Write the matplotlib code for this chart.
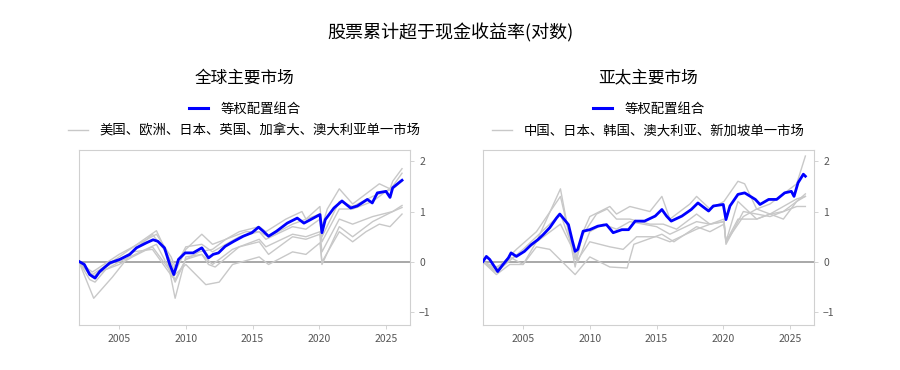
import matplotlib
matplotlib.use('Agg')
import matplotlib.pyplot as plt
from matplotlib.lines import Line2D

plt.rcParams['font.family'] = ['Noto Sans CJK SC', 'DejaVu Sans']

# ---- global panel: equal-weight portfolio
g_eq_t = [2002.0, 2002.4, 2002.8, 2003.2, 2003.55, 2004.3, 2005.05, 2005.8, 2006.3, 2007.05,
          2007.55, 2007.9, 2008.4, 2008.8, 2009.1, 2009.45, 2009.95, 2010.55, 2011.2, 2011.7,
          2012.05, 2012.45, 2012.95, 2013.6, 2014.3, 2014.95, 2015.45, 2015.8, 2016.2, 2016.8,
          2017.6, 2018.35, 2018.85, 2019.35, 2020.05, 2020.2, 2020.45, 2021.1, 2021.7, 2022.35,
          2022.85, 2023.6, 2023.97, 2024.35, 2025.0, 2025.3, 2025.5, 2026.1, 2026.2]
g_eq_v = [0.01, -0.05, -0.25, -0.32, -0.19, -0.02, 0.05, 0.15, 0.28, 0.38,
          0.44, 0.41, 0.28, -0.05, -0.25, 0.05, 0.18, 0.18, 0.28, 0.08,
          0.15, 0.18, 0.31, 0.41, 0.51, 0.58, 0.69, 0.61, 0.51, 0.61,
          0.77, 0.87, 0.77, 0.84, 0.94, 0.58, 0.84, 1.07, 1.21, 1.07,
          1.11, 1.24, 1.17, 1.37, 1.40, 1.28, 1.47, 1.60, 1.62]

# ---- global panel: single markets
g_us_t = [2002.0, 2002.8, 2003.2, 2004.0, 2005.0, 2006.0, 2007.5, 2008.9, 2009.2, 2010.0, 2011.0,
          2012.0, 2013.0, 2014.0, 2015.5, 2016.0, 2017.5, 2018.7, 2019.0, 2020.05, 2020.2, 2020.6,
          2021.5, 2022.5, 2023.5, 2024.5, 2025.3, 2025.5, 2026.2]
g_us_v = [0.0, -0.35, -0.4, -0.15, -0.05, 0.1, 0.3, -0.2, -0.35, 0.05, 0.2,
          0.25, 0.45, 0.6, 0.7, 0.6, 0.85, 1.0, 0.85, 1.1, 0.7, 1.05,
          1.45, 1.15, 1.35, 1.55, 1.45, 1.6, 1.85]

g_eu_t = [2002.0, 2003.1, 2004.5, 2006.0, 2007.5, 2008.5, 2009.2, 2010.0, 2011.2, 2011.7,
          2012.2, 2014.0, 2015.5, 2016.2, 2018.0, 2019.0, 2020.05, 2020.2, 2021.5, 2022.5,
          2024.0, 2025.5, 2026.2]
g_eu_v = [0.0, -0.72, -0.3, 0.2, 0.55, 0.2, -0.72, 0.1, 0.15, -0.05,
          -0.1, 0.3, 0.4, 0.15, 0.5, 0.45, 0.55, -0.05, 0.7, 0.5,
          0.8, 1.0, 1.12]

g_jp_t = [2002.0, 2003.0, 2004.0, 2006.0, 2007.5, 2009.0, 2010.0, 2011.5, 2012.5, 2013.5,
          2015.5, 2016.2, 2018.0, 2019.0, 2020.05, 2020.2, 2021.5, 2022.5, 2023.5, 2024.5,
          2025.3, 2026.2]
g_jp_v = [0.0, -0.3, -0.1, 0.2, 0.25, -0.3, -0.05, -0.45, -0.4, -0.05,
          0.1, -0.05, 0.2, 0.15, 0.38, 0.0, 0.6, 0.4, 0.6, 0.75,
          0.7, 0.95]

g_uk_t = [2002.0, 2003.0, 2005.0, 2007.8, 2008.9, 2009.2, 2010.0, 2011.2, 2012.0, 2013.5,
          2014.5, 2015.5, 2016.0, 2018.0, 2019.0, 2020.05, 2020.2, 2021.5, 2022.5, 2024.0,
          2025.5, 2026.2]
g_uk_v = [0.0, -0.3, 0.0, 0.35, -0.2, -0.4, 0.05, 0.15, -0.05, 0.25,
          0.35, 0.45, 0.3, 0.55, 0.5, 0.6, 0.2, 0.85, 0.75, 0.9,
          1.0, 1.08]

g_ca_t = [2002.0, 2003.0, 2005.0, 2007.8, 2008.9, 2009.2, 2010.0, 2011.2, 2012.0, 2013.0,
          2014.5, 2015.5, 2016.0, 2018.0, 2019.0, 2020.05, 2020.2, 2021.5, 2022.5, 2024.0,
          2025.5, 2026.2]
g_ca_v = [0.0, -0.25, 0.1, 0.62, 0.0, -0.2, 0.25, 0.55, 0.35, 0.45,
          0.6, 0.6, 0.45, 0.7, 0.65, 0.85, 0.4, 1.05, 1.05, 1.2,
          1.5, 1.76]

g_au_t = [2002.0, 2003.0, 2005.0, 2007.8, 2008.9, 2009.2, 2010.0, 2011.2, 2012.0, 2014.0,
          2015.5, 2016.2, 2018.0, 2020.05, 2020.2, 2021.5, 2022.5, 2024.0, 2025.5, 2026.2]
g_au_v = [0.0, -0.2, 0.15, 0.55, 0.1, -0.1, 0.3, 0.35, 0.2, 0.5,
          0.6, 0.5, 0.75, 0.95, 0.5, 1.2, 1.1, 1.3, 1.45, 1.6]

# ---- Asia-Pacific panel: equal-weight portfolio
a_eq_t = [2002.0, 2002.25, 2002.5, 2002.75, 2003.1, 2003.5, 2003.9, 2004.1, 2004.5, 2005.1,
          2005.6, 2006.1, 2006.5, 2007.0, 2007.5, 2007.75, 2008.0, 2008.4, 2008.7, 2008.9,
          2009.1, 2009.5, 2010.0, 2010.6, 2011.25, 2011.75, 2012.4, 2012.9, 2013.4, 2014.1,
          2014.9, 2015.4, 2015.75, 2016.1, 2016.9, 2017.6, 2018.1, 2018.9, 2019.25, 2020.0,
          2020.2, 2020.5, 2021.1, 2021.6, 2022.4, 2022.75, 2023.4, 2024.0, 2024.6, 2025.1,
          2025.3, 2025.6, 2026.0, 2026.15]
a_eq_v = [0.01, 0.11, 0.05, -0.05, -0.19, -0.05, 0.08, 0.18, 0.11, 0.21,
          0.34, 0.44, 0.54, 0.68, 0.87, 0.95, 0.87, 0.74, 0.41, 0.21,
          0.25, 0.61, 0.64, 0.71, 0.74, 0.58, 0.64, 0.64, 0.81, 0.81,
          0.91, 1.04, 0.91, 0.81, 0.91, 1.04, 1.17, 1.01, 1.11, 1.14,
          0.84, 1.11, 1.34, 1.37, 1.24, 1.14, 1.24, 1.24, 1.37, 1.40,
          1.30, 1.57, 1.74, 1.70]

# ---- Asia-Pacific panel: single markets
a_cn_t = [2002.0, 2003.0, 2004.0, 2005.0, 2006.0, 2007.8, 2008.9, 2009.5, 2010.0, 2011.5,
          2012.0, 2013.0, 2014.5, 2015.4, 2016.0, 2017.5, 2018.0, 2019.0, 2020.05, 2021.1,
          2021.6, 2022.5, 2023.5, 2024.5, 2025.5, 2026.15]
a_cn_v = [0.0, -0.2, 0.1, -0.05, 0.4, 1.45, -0.1, 0.6, 0.9, 1.1,
          0.95, 1.1, 1.0, 1.3, 0.85, 1.15, 1.3, 1.05, 1.2, 1.6,
          1.55, 1.05, 1.15, 1.35, 1.55, 2.1]

a_kr_t = [2002.0, 2003.0, 2004.5, 2006.0, 2007.8, 2008.9, 2009.5, 2010.5, 2011.3, 2012.0,
          2013.0, 2014.5, 2015.5, 2016.5, 2018.0, 2019.0, 2020.05, 2020.2, 2021.1, 2022.5,
          2023.5, 2024.5, 2025.5, 2026.15]
a_kr_v = [0.0, -0.15, 0.25, 0.6, 1.3, 0.05, 0.55, 0.95, 1.05, 0.85,
          0.85, 0.75, 0.75, 0.65, 0.95, 0.75, 0.8, 0.4, 1.2, 0.85,
          0.95, 0.85, 1.2, 1.35]

a_jp_t = [2002.0, 2003.0, 2004.0, 2005.0, 2006.0, 2007.0, 2008.9, 2010.0, 2011.5, 2012.8,
          2013.3, 2015.4, 2016.3, 2018.0, 2019.0, 2020.05, 2020.2, 2021.1, 2022.5, 2023.5,
          2024.5, 2025.5, 2026.15]
a_jp_v = [0.0, -0.25, -0.05, -0.05, 0.3, 0.25, -0.25, 0.1, -0.1, -0.12,
          0.35, 0.55, 0.4, 0.7, 0.6, 0.75, 0.4, 0.85, 0.85, 0.95,
          1.0, 1.1, 1.1]

a_au_t = [2002.0, 2003.0, 2005.0, 2007.8, 2009.1, 2010.0, 2011.5, 2012.5, 2013.5, 2015.0,
          2016.0, 2018.0, 2020.05, 2020.2, 2021.5, 2022.5, 2023.5, 2024.5, 2025.5, 2026.15]
a_au_v = [0.0, -0.1, 0.2, 0.75, 0.05, 0.4, 0.3, 0.25, 0.5, 0.5,
          0.4, 0.65, 0.85, 0.35, 1.0, 0.95, 0.9, 1.0, 1.2, 1.3]

a_sg_t = [2002.0, 2003.0, 2005.0, 2007.8, 2009.1, 2010.0, 2011.0, 2012.0, 2013.0, 2015.0,
          2016.0, 2018.0, 2019.0, 2020.05, 2020.2, 2021.5, 2022.5, 2023.5, 2024.5, 2025.5,
          2026.15]
a_sg_v = [0.0, -0.2, 0.25, 0.95, 0.0, 0.6, 0.75, 0.65, 0.8, 0.7,
          0.55, 0.8, 0.75, 0.8, 0.4, 0.9, 1.05, 0.95, 1.1, 1.25,
          1.3]

panels = [
    ('全球主要市场', g_eq_t, g_eq_v,
     [(g_us_t, g_us_v), (g_eu_t, g_eu_v), (g_jp_t, g_jp_v),
      (g_uk_t, g_uk_v), (g_ca_t, g_ca_v), (g_au_t, g_au_v)],
     '美国、欧洲、日本、英国、加拿大、澳大利亚单一市场'),
    ('亚太主要市场', a_eq_t, a_eq_v,
     [(a_cn_t, a_cn_v), (a_jp_t, a_jp_v), (a_kr_t, a_kr_v),
      (a_au_t, a_au_v), (a_sg_t, a_sg_v)],
     '中国、日本、韩国、澳大利亚、新加坡单一市场'),
]

BLUE = '#0000ff'
GREY = '#c8c8c8'

fig = plt.figure(figsize=(9, 3.7), dpi=100)
fig.text(0.5, 0.91, '股票累计超于现金收益率(对数)', ha='center', va='center', fontsize=13)

lefts = [0.0878, 0.5367]
for left, (title, eq_t, eq_v, singles, grey_label) in zip(lefts, panels):
    ax = fig.add_axes([left, 0.1216, 0.3678, 0.473])
    for t, v in singles:
        ax.plot(t, v, color=GREY, lw=1.0)
    ax.axhline(0, color='#999999', lw=1.2, zorder=1)
    ax.plot(eq_t, eq_v, color=BLUE, lw=2.0, zorder=3)

    ax.set_xlim(2002.0, 2026.8)
    ax.set_ylim(-1.25, 2.22)
    ax.set_xticks([2005, 2010, 2015, 2020, 2025])
    ax.set_yticks([-1, 0, 1, 2])
    ax.yaxis.tick_right()
    ax.tick_params(labelsize=7.5, colors='#555555', length=3, width=0.6)
    ax.tick_params(axis='both', color='#cccccc')
    for s in ax.spines.values():
        s.set_color('#d0d0d0')

    ax.text(0.5, 1.411, title, transform=ax.transAxes, ha='center', va='center', fontsize=12)

    leg1 = ax.legend([Line2D([], [], color=BLUE, lw=2.2)], ['等权配置组合'],
                     loc='center', bbox_to_anchor=(0.5, 1.234), frameon=False,
                     fontsize=9.6, handlelength=1.45, handletextpad=0.9,
                     borderpad=0, borderaxespad=0)
    ax.add_artist(leg1)
    ax.legend([Line2D([], [], color=GREY, lw=1.0)], [grey_label],
              loc='center', bbox_to_anchor=(0.5, 1.109), frameon=False,
              fontsize=9.6, handlelength=1.45, handletextpad=0.9,
              borderpad=0, borderaxespad=0)

fig.savefig('out.png', dpi=100)
